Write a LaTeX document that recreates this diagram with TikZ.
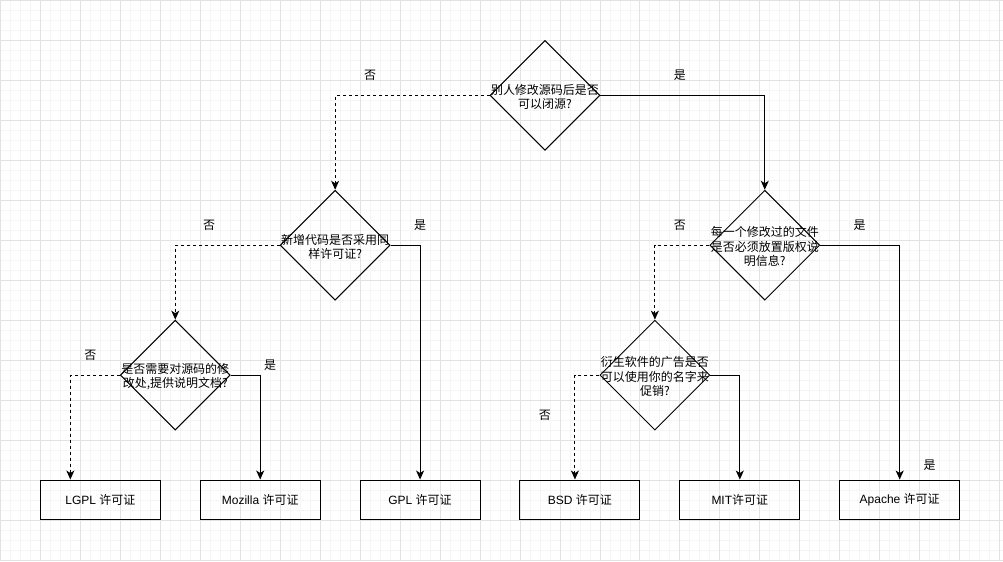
\documentclass[tikz,border=0pt]{standalone}
\usepackage{fontspec}
\setmainfont{Liberation Sans}
\newfontfamily\cjk{Noto Sans CJK SC}
\usetikzlibrary{arrows.meta, shapes.geometric}
\definecolor{GridMinor}{HTML}{F5F5F5}
\definecolor{GridMajor}{HTML}{E2E2E2}

\begin{document}
\begin{tikzpicture}[
    x=1pt, y=-1pt,
    decision/.style={draw, diamond, shape aspect=1, line width=1pt,
      minimum width=110pt, minimum height=110pt, inner sep=0pt},
    qtext/.style={font=\cjk\fontsize{12}{14.5}\selectfont, align=center, inner sep=0pt, yshift=-1.5pt},
    licbox/.style={draw, rectangle, line width=1pt, minimum width=120pt, minimum height=40pt,
      inner sep=0pt, font=\fontsize{12}{14}\selectfont},
    answer/.style={font=\cjk\fontsize{12}{14}\selectfont, inner sep=0pt},
    yesline/.style={-{Stealth[length=9pt, width=8pt, inset=2.5pt]}, line width=1pt},
    noline/.style={yesline, dash pattern=on 3pt off 3pt}
  ]
    % background grid
    \fill[white] (0,0) rectangle (1003,561);
    \draw[GridMinor, line width=0.8pt, step=10pt] (0,0) grid (1003,561);
    \draw[GridMajor, line width=0.8pt, step=40pt] (0,0) grid (1003,561);
    \useasboundingbox (0,0) rectangle (1003,561);

    % questions
    \node[decision, label={[qtext]center:{别人修改源码后是否\\可以闭源?}}] (closed) at (545,95) {};
    \node[decision, label={[qtext]center:{新增代码是否采用同\\样许可证?}}] (same) at (335,245) {};
    \node[decision, label={[qtext]center:{每一个修改过的文件\\是否必须放置版权说\\明信息?}}] (notice) at (765,245) {};
    \node[decision, label={[qtext]center:{是否需要对源码的修\\改处,提供说明文档?}}] (docs) at (175,375) {};
    \node[decision, label={[qtext]center:{衍生软件的广告是否\\可以使用你的名字来\\促销?}}] (promo) at (655,375) {};

    % licences
    \node[licbox] (lgpl) at (100,500) {LGPL {\cjk 许可证}};
    \node[licbox] (mozilla) at (260,500) {Mozilla {\cjk 许可证}};
    \node[licbox] (gpl) at (420,500) {GPL {\cjk 许可证}};
    \node[licbox] (bsd) at (580,500) {BSD {\cjk 许可证}};
    \node[licbox] (mit) at (740,500) {MIT{\cjk 许可证}};
    \node[licbox] (apache) at (900,500) {Apache {\cjk 许可证}};

    % answers
    \node[answer] (no1) at (370,75) {否};
    \node[answer] (yes1) at (680,75) {是};
    \node[answer] (no2) at (209,225) {否};
    \node[answer] (yes2) at (420,225) {是};
    \node[answer] (no3) at (680,225) {否};
    \node[answer] (yes3) at (860,225) {是};
    \node[answer] (no4) at (90,355) {否};
    \node[answer] (yes4) at (270,365) {是};
    \node[answer] (no5) at (545,415) {否};
    \node[answer] (yes5) at (930,465) {是};

    \draw[noline] (closed.west) -| (same.north);
    \draw[yesline] (closed.east) -| (notice.north);
    \draw[noline] (same.west) -| (docs.north);
    \draw[yesline] (same.east) -| (gpl.north);
    \draw[noline] (notice.west) -| (promo.north);
    \draw[yesline] (notice.east) -| (apache.north);
    \draw[noline] (docs.west) -| ([xshift=-30pt]lgpl.north);
    \draw[yesline] (docs.east) -| (mozilla.north);
    \draw[noline] (promo.west) -| ([xshift=-5pt]bsd.north);
    \draw[yesline] (promo.east) -| (mit.north);
  \end{tikzpicture}
\end{document}
